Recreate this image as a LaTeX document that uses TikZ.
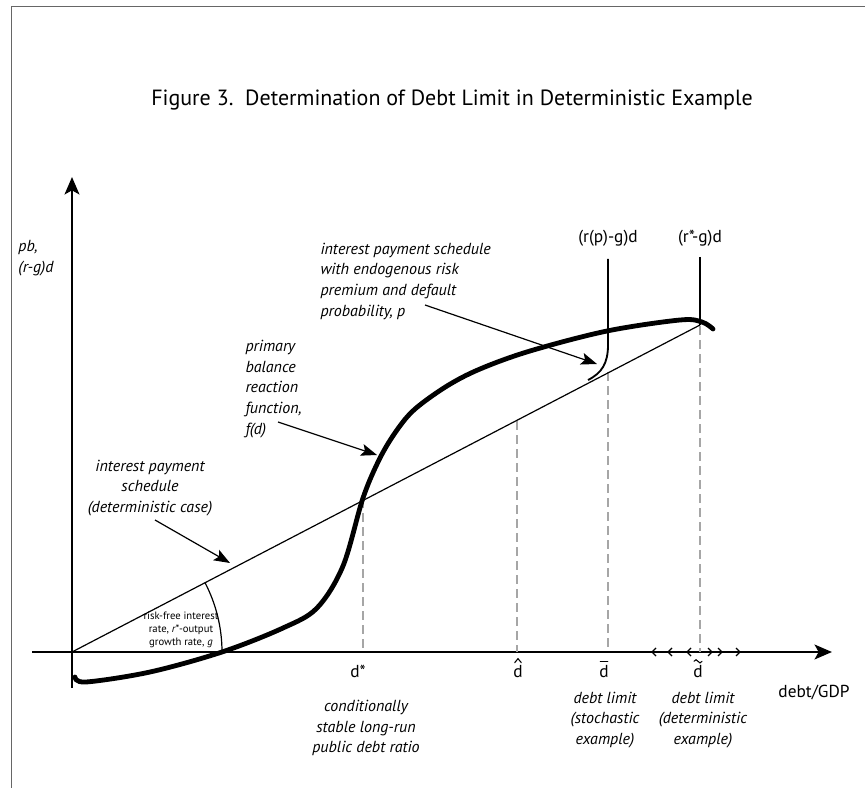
\documentclass[tikz,border=0pt]{standalone}
\usepackage{fontspec}
\setmainfont{PT Sans}
\usetikzlibrary{arrows.meta}

\tikzset{every picture/.style={line width=0.75pt}}
\tikzset{
  axisline/.style={line width=2.2pt, -{Stealth[length=13pt,width=11pt,inset=3pt]}},
  pbcurve/.style={line width=3.6pt, line cap=round},
  rateline/.style={line width=0.9pt},
  limitline/.style={line width=1.4pt},
  guide/.style={draw=black!35, line width=1.2pt, dash pattern=on 7pt off 3.5pt},
  pointer/.style={line width=0.9pt, -{Stealth[length=12pt,width=9pt,inset=2.5pt]}},
  accent/.style={line width=0.8pt, line cap=round},
  italbl/.style={font=\itshape\fontsize{12}{15.5}\selectfont, inner sep=0pt},
  axlbl/.style={font=\fontsize{13}{15}\selectfont, inner sep=0pt},
}

\begin{document}
\begin{tikzpicture}[x=0.75pt,y=0.75pt,yscale=-1,xscale=1]
	\useasboundingbox (0,0) rectangle (865,788);

	%Straight Lines: frame
	\draw [black!60] (11,788) -- (11,7) -- (865,7) ;

	% Text Node
	\draw (452,100) node [font=\fontsize{16.5}{18}\selectfont, inner sep=0pt] (title) {Figure 3.\ \ Determination of Debt Limit in Deterministic Example};

	%Straight Lines: axes
	\coordinate (origin) at (72,652) ;
	\coordinate (ybot) at (72,688) ;
	\coordinate (ytop) at (72,177) ;
	\coordinate (xleft) at (32,652) ;
	\coordinate (xright) at (832,652) ;
	\draw [axisline] (ybot) -- (ytop) ;
	\draw [axisline] (xleft) -- (xright) ;

	%Straight Lines: dashed guides
	\draw [guide] (363,499) -- (363,652) ;
	\draw [guide] (517,421) -- (517,652) ;
	\draw [guide] (608,372) -- (608,652) ;
	\draw [guide] (700,326) -- (700,652) ;

	%Straight Lines: interest payment schedule
	\coordinate (rstar) at (700,325) ;
	\draw [rateline] (origin) -- (rstar) ;

	%Curve Lines: angle of the schedule
	\draw [rateline] (222,652) arc [start angle=0, end angle=-27.5, radius=112.5pt] ;

	%Curve Lines: primary balance reaction function
	\draw [pbcurve] plot [smooth, tension=0.55] coordinates {(75,677) (86,682) (150,672) (222,652) (283,628) (317,608) (343,566) (363,498) (380,458) (397,430) (415,409) (447,386) (480,369) (530,351) (607,331) (680,320) (702,322) (713,329)} ;

	%Curve Lines: schedule with risk premium
	\draw [limitline] (608,259) -- (608,345) .. controls (608,363) and (602,373) .. (588,380) ;
	%Straight Lines: deterministic limit
	\draw [limitline] (700,257) -- (700,325) ;

	%Shape: ticks round the deterministic limit
	\foreach \tx in {652,668,687} {
	  \draw [line width=1pt] (\tx+4,648) -- (\tx,652) -- (\tx+4,656) ;
	}
	\foreach \tx in {712,722,740} {
	  \draw [line width=1pt] (\tx-4,648) -- (\tx,652) -- (\tx-4,656) ;
	}

	%Straight Lines: pointers
	\coordinate (tailA) at (155,520) ;
	\coordinate (tipA) at (230,563) ;
	\coordinate (tailB) at (278,422) ;
	\coordinate (tipB) at (377,455) ;
	\coordinate (tailC) at (425,305) ;
	\coordinate (tipC) at (597,364) ;
	\draw [pointer] (tailA) -- (tipA) ;
	\draw [pointer] (tailB) -- (tipB) ;
	\draw [pointer] (tailC) -- (tipC) ;

	% Text Node
	\draw (18,258) node [italbl, anchor=west, align=left] (ylab) {pb,\\(r-g)d};
	% Text Node
	\draw (814,693) node [axlbl] (xlab) {debt/GDP};
	% Text Node
	\draw (608,238) node [axlbl] (rplab) {(r(p)-g)d};
	% Text Node
	\draw (700,238) node [axlbl] (rslab) {(r*-g)d};
	% Text Node
	\draw (150,488) node [italbl, align=center] (detlab) {interest payment\\schedule\\(deterministic case)};
	% Text Node
	\draw (245,389) node [italbl, anchor=west, align=left] (pblab) {primary\\balance\\reaction\\function,\\f(d)};
	% Text Node
	\draw (320,281) node [italbl, anchor=west, align=left] (endolab) {interest payment schedule\\with endogenous risk\\premium and default\\probability, p};
	% Text Node
	\draw (181,630) node [font=\fontsize{8}{9.8}\selectfont, inner sep=0pt, align=center] (anglab) {risk-free interest\\rate, \textit{r*}-output\\growth rate, \textit{g}};

	% Text Node
	\draw (358,671) node [axlbl] (dstar) {d*};
	% Text Node
	\draw (518,672) node [axlbl] (dhat) {d};
	% Text Node
	\draw (604,672) node [axlbl] (dbar) {d};
	% Text Node
	\draw (698,672) node [axlbl] (dtil) {d};
	%Shape: accents over the limits (y runs downwards here)
	\draw [accent] ([xshift=-2.5pt,yshift=-2pt]dhat.north) -- ([yshift=-5pt]dhat.north) -- ([xshift=2.5pt,yshift=-2pt]dhat.north) ;
	\draw [accent] ([xshift=-2.8pt,yshift=-3pt]dbar.north) -- ([xshift=2.8pt,yshift=-3pt]dbar.north) ;
	\draw [accent] ([xshift=-3pt,yshift=-3pt]dtil.north) sin ++(1.5pt,-1.2pt) cos ++(1.5pt,1.2pt) sin ++(1.5pt,1.2pt) cos ++(1.5pt,-1.2pt) ;

	% Text Node
	\draw (366,728) node [italbl, align=center] (stablab) {conditionally\\stable long-run\\public debt ratio};
	% Text Node
	\draw (605,720) node [italbl, align=center] (stochlab) {debt limit\\(stochastic\\example)};
	% Text Node
	\draw (703,720) node [italbl, align=center] (detlimlab) {debt limit\\(deterministic\\example)};

\end{tikzpicture}
\end{document}
